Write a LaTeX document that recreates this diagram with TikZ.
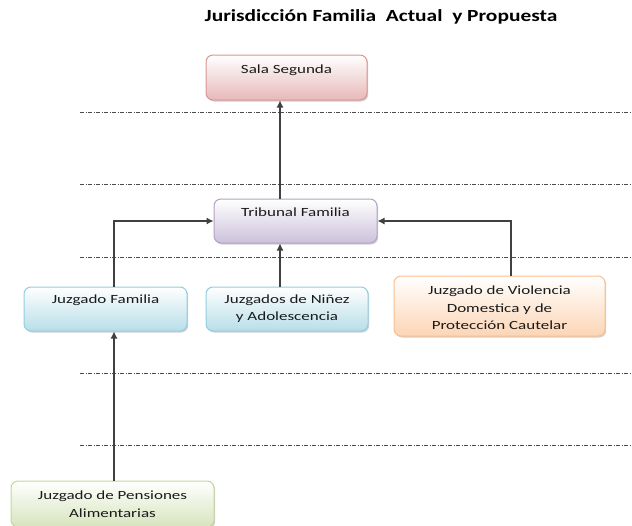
\documentclass[tikz,border=0pt]{standalone}
\usepackage{fontspec}
\setmainfont{Carlito}
\newfontfamily\widefont[FakeStretch=1.36]{Carlito}
\newfontfamily\widetitle[FakeStretch=1.26]{Carlito}
\usetikzlibrary{arrows.meta,shadows}
\definecolor{salaB}{HTML}{D99694}\definecolor{salaF}{HTML}{E6B9B8}
\definecolor{tribB}{HTML}{B3A2C7}\definecolor{tribF}{HTML}{CCC1DA}
\definecolor{juzB}{HTML}{93CDDD}\definecolor{juzF}{HTML}{B7DEE8}
\definecolor{vioB}{HTML}{FAC090}\definecolor{vioF}{HTML}{FCD5B5}
\definecolor{penB}{HTML}{C3D69B}\definecolor{penF}{HTML}{D7E4BD}
\definecolor{txt}{HTML}{1A1A1A}
\tikzset{
  orgbox/.style={rounded corners=7pt, line width=1pt, inner sep=0pt,
    drop shadow={shadow xshift=1.2pt, shadow yshift=-1.5pt, fill=black!30, opacity=.6}},
  boxtext/.style={font=\widefont\fontsize{12.5}{17.5}\selectfont, text=txt, align=center, inner sep=0pt, anchor=north},
  link/.style={draw=black!75, line width=1.1pt, -{Latex[length=7pt,width=7pt]}},
  level/.style={draw=black!70, line width=0.6pt, dash pattern=on 4pt off 1.5pt on 1pt off 1.5pt}
}
\begin{document}
\begin{tikzpicture}[x=1pt,y=-1pt]
\useasboundingbox (0,0) rectangle (632,525);
\node[font=\widetitle\bfseries\fontsize{17}{20}\selectfont, text=black] (title) at (381,17) {Jurisdicción Familia\ \ Actual\ \ y Propuesta};

% level separators
\foreach \yy/\nm in {112/a,184/b,257/c,373/d,445/e}
  \draw[level] (80,\yy) coordinate (l\nm) -- (632,\yy) coordinate (r\nm);

% boxes
\node[orgbox, draw=salaB, top color=white, bottom color=salaF, minimum width=161, minimum height=45] (sala) at (286.5,77.5) {};
\node[orgbox, draw=tribB, top color=white, bottom color=tribF, minimum width=163, minimum height=44] (trib) at (295.5,221) {};
\node[orgbox, draw=juzB, top color=white, bottom color=juzF, minimum width=163, minimum height=44] (fam) at (105.5,309) {};
\node[orgbox, draw=juzB, top color=white, bottom color=juzF, minimum width=162, minimum height=44] (nin) at (287,309) {};
\node[orgbox, draw=vioB, top color=white, bottom color=vioF, minimum width=211, minimum height=60] (vio) at (499.5,306) {};
\node[orgbox, draw=penB, top color=white, bottom color=penF, minimum width=203, minimum height=46] (pen) at (112.5,504) {};

% labels
\node[boxtext] (salaT) at (286.5,65) {Sala Segunda};
\node[boxtext] (tribT) at (295.5,208) {Tribunal Familia};
\node[boxtext] (famT) at (105.5,294.5) {Juzgado Familia};
\node[boxtext] (ninT) at (287,294.5) {Juzgados de Niñez\\y Adolescencia};
\node[boxtext] (vioT) at (499.5,286) {Juzgado de Violencia\\Domestica y de\\Protección Cautelar};
\node[boxtext] (penT) at (112.5,491) {Juzgado de Pensiones\\Alimentarias};

% connectors
\draw[link] (trib.north -| 280,0) -- (sala.south -| 280,0);
\draw[link] (nin.north -| 280,0) -- (trib.south -| 280,0);
\draw[link] (fam.north -| 114,0) |- (trib.west);
\draw[link] (vio.north -| 511,0) |- (trib.east);
\draw[link] (pen.north -| 114,0) -- (fam.south -| 114,0);
\end{tikzpicture}
\end{document}
